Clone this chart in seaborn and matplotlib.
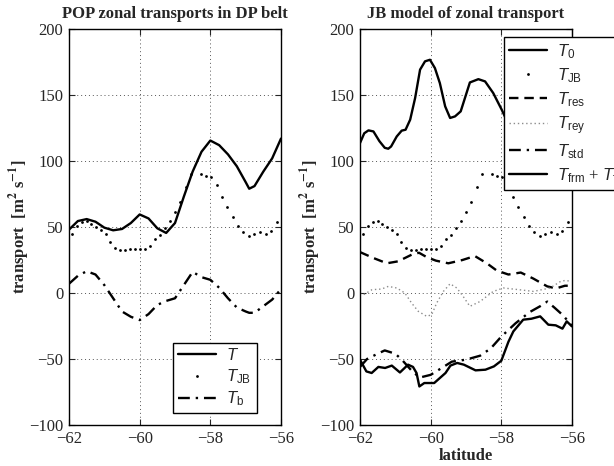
import numpy as np
import pandas as pd
import matplotlib
matplotlib.use("Agg")
import matplotlib.pyplot as plt
import seaborn as sns

# ---------------- data ----------------
lat_T = [-62.0, -61.75, -61.5, -61.25, -61.0, -60.75, -60.5, -60.25, -60.0, -59.75,
         -59.5, -59.25, -59.0, -58.75, -58.5, -58.25, -58.0, -57.75, -57.5, -57.25,
         -57.0, -56.9, -56.75, -56.5, -56.25, -56.0]
T_pop = [48, 54.5, 56, 54, 49.5, 47.5, 48.5, 53, 59.5, 56.5,
         49, 45.5, 53, 73, 92, 107, 115.5, 112, 105, 96,
         84, 79, 81, 92, 102, 117]
T_b = [7, 13, 16.5, 14, 6, -4, -14, -18, -20.5, -16,
       -9, -6, -4, 6, 16, 12, 10, 4, -4, -11,
       -14, -15, -15, -10, -5, 3]

lat_jb = [-61.92, -61.77, -61.62, -61.49, -61.38, -61.24, -61.10, -60.96, -60.83, -60.70,
          -60.56, -60.41, -60.27, -60.13, -59.99, -59.85, -59.71, -59.57, -59.42, -59.28,
          -59.14, -59.00, -58.86, -58.70, -58.55, -58.26, -58.12, -57.97, -57.82, -57.67,
          -57.52, -57.37, -57.22, -57.07, -56.90, -56.76, -56.60, -56.43, -56.28, -56.12]
T_jb = [44.7, 50.5, 54, 54.5, 52, 49.7, 48, 44.7, 39, 34,
        32.3, 32.8, 33.3, 33.6, 33.6, 33.3, 35.8, 40.9, 44.2, 49,
        54.8, 61.4, 69, 80.3, 90.4, 90, 88.3, 87.6, 82, 73,
        65, 57.6, 51, 46, 43, 44.4, 46.2, 44.4, 47, 53.5]

lat_T0 = [-62.0, -61.88, -61.76, -61.62, -61.45, -61.3, -61.2, -61.12, -60.96, -60.82,
          -60.71, -60.58, -60.44, -60.3, -60.16, -60.02, -59.88, -59.74, -59.59, -59.45,
          -59.31, -59.15, -59.03, -58.89, -58.65, -58.46, -58.23, -57.99, -57.75, -57.5,
          -57.25, -57.0, -56.75, -56.5, -56.25, -56.0]
T_0 = [113.6, 121, 123.2, 122.4, 115, 110, 109.3, 111, 118.6, 123,
       123.7, 131.3, 147.7, 169.2, 175.5, 176.7, 170.4, 159, 141.4, 132.6,
       133.8, 137.6, 147.7, 159.5, 162, 160.3, 151.5, 138.9, 125, 112,
       100, 92, 86, 81, 78.5, 84]

lat_res = [-62.0, -61.62, -61.24, -60.92, -60.54, -60.33, -60.1, -59.85, -59.5, -59.1,
           -58.75, -58.41, -58.13, -57.8, -57.45, -57.1, -56.7, -56.45, -56.2, -56.0]
T_res = [31, 26.5, 22.5, 24, 29, 30.5, 27, 24.5, 22.5, 25,
         28, 22.5, 17, 14, 15.5, 11, 5, 3.5, 5.5, 5.5]

lat_rey = [-62.0, -61.9, -61.66, -61.39, -61.2, -60.96, -60.73, -60.54, -60.35, -60.11,
           -59.97, -59.83, -59.64, -59.45, -59.26, -59.08, -58.89, -58.6, -58.23, -57.94,
           -57.5, -57.09, -56.62, -56.34, -56.2, -56.05]
T_rey = [0, -1.3, 2.5, 3, 5, 3.8, 0, -7.6, -13.9, -17.7,
         -16.4, -7.6, 1.2, 7, 3.8, -2.6, -10.1, -6.4, 1.2, 3.8,
         2.5, 1.2, 3.8, 8.5, 9.5, 9]

lat_std = [-62.0, -61.8, -61.5, -61.3, -61.0, -60.8, -60.5, -60.3, -60.0, -59.7,
           -59.4, -59.0, -58.6, -58.3, -58.0, -57.6, -57.2, -56.9, -56.7, -56.5,
           -56.25, -56.0]
T_std = [-56, -50, -46, -43.5, -46, -51, -60, -64, -62, -57,
         -52, -50.5, -47.5, -42, -33, -23, -14.5, -10, -6.5, -11,
         -17, -25]

lat_frm = [-62.0, -61.82, -61.67, -61.48, -61.29, -61.1, -60.87, -60.64, -60.5, -60.4,
           -60.32, -60.18, -59.9, -59.58, -59.44, -59.25, -59.06, -58.73, -58.45, -58.21,
           -58.0, -57.8, -57.66, -57.38, -57.15, -56.9, -56.67, -56.46, -56.27, -56.15,
           -56.0]
T_frm = [-50.5, -59.4, -60.6, -56, -56.8, -55, -60.2, -54.3, -56, -60.6,
         -70.8, -68.2, -68.2, -60.6, -55, -53, -54.3, -58.6, -58.1, -55.6,
         -51.3, -37, -29.1, -20.2, -19.5, -17.7, -24, -24.5, -27, -21.5,
         -25.3]

xticks = [-62, -60, -58, -56]
yticks = [-100, -50, 0, 50, 100, 150, 200]

# ---------------- style ----------------
sns.set_style("ticks")
plt.rcParams["font.family"] = ["Liberation Serif", "DejaVu Serif"]
plt.rcParams["mathtext.fontset"] = "custom"
plt.rcParams["mathtext.rm"] = "Liberation Sans"
plt.rcParams["mathtext.it"] = "Liberation Sans:italic"
plt.rcParams["mathtext.bf"] = "Liberation Sans:bold"
plt.rcParams["axes.unicode_minus"] = True

W, H = 614, 466
fig = plt.figure(figsize=(W / 100, H / 100), dpi=100)
ax1 = fig.add_axes([69 / W, 41 / H, 212 / W, 396 / H])
ax2 = fig.add_axes([360 / W, 41 / H, 212 / W, 396 / H])

LW = 1.7


def line(ax, x, y, color="k", **kw):
    sns.lineplot(x=x, y=y, ax=ax, color=color, estimator=None, sort=False,
                 legend=False, **kw)
    return ax.lines[-1]


def dots(ax, x, y):
    sns.lineplot(x=x, y=y, ax=ax, color="k", estimator=None, sort=False,
                 legend=False, linestyle="", marker="o", markersize=2.0,
                 markeredgewidth=0, markerfacecolor="k")
    return ax.lines[-1]


# left panel
h_T = line(ax1, lat_T, T_pop, lw=LW, linestyle="-")
h_jb = dots(ax1, lat_jb, T_jb)
h_b = line(ax1, lat_T, T_b, lw=LW, linestyle=(0, (5, 2.5, 1, 2.5)))

# right panel
h_T0 = line(ax2, lat_T0, T_0, lw=LW, linestyle="-")
h_jb2 = dots(ax2, lat_jb, T_jb)
h_res = line(ax2, lat_res, T_res, lw=LW, linestyle=(0, (4, 2.5)))
h_rey = line(ax2, lat_rey, T_rey, color="#8c8c8c", lw=1.0, linestyle=(0, (1, 2)))
h_std = line(ax2, lat_std, T_std, lw=LW, linestyle=(0, (5, 2.5, 1, 2.5)))
h_frm = line(ax2, lat_frm, T_frm, lw=LW, linestyle="-")

for ax in (ax1, ax2):
    ax.set_xlim(-62, -56)
    ax.set_ylim(-100, 200)
    ax.set_xticks(xticks)
    ax.set_yticks(yticks)
    ax.grid(True, linestyle=(0, (1, 3)), color="#555555", lw=0.7)
    ax.tick_params(direction="in", length=4, width=0.8, top=True, right=True,
                   labelsize=12, pad=4)
    for s in ax.spines.values():
        s.set_visible(True)
        s.set_linewidth(1.0)
        s.set_color("k")
    ax.set_ylabel(r"transport  [m$^{\mathbf{2}}$ s$^{\mathbf{-1}}$]",
                  fontsize=12, fontweight="bold", labelpad=-2)
    ax.yaxis.label.set_math_fontfamily("stix")
    ax.set_xlabel("")

ax1.set_title("POP zonal transports in DP belt", fontsize=12, fontweight="bold", pad=8)
ax2.set_title("JB model of zonal transport", fontsize=12, fontweight="bold", pad=8)
ax2.set_xlabel("latitude", fontsize=12, fontweight="bold", labelpad=1)

leg_kw = dict(frameon=True, fancybox=False, edgecolor="k", framealpha=1,
              fontsize=12, borderaxespad=0, handlelength=2.3,
              borderpad=0.3, handletextpad=0.6, bbox_transform=fig.transFigure,
              loc="upper left")

leg1 = ax1.legend([h_T, h_jb, h_b], [r"$T$", r"$T_{\rm JB}$", r"$T_{\rm b}$"],
                  bbox_to_anchor=(173 / W, 1 - 343 / H), labelspacing=0.2, **leg_kw)
leg1.get_frame().set_linewidth(1.0)

leg2 = ax2.legend([h_T0, h_jb2, h_res, h_rey, h_std, h_frm],
                  [r"$T_0$", r"$T_{\rm JB}$", r"$T_{\rm res}$", r"$T_{\rm rey}$",
                   r"$T_{\rm std}$", r"$T_{\rm frm}$ + $T_{\rm frs}$"],
                  bbox_to_anchor=(504 / W, 1 - 37 / H), labelspacing=0.32, **leg_kw)
leg2.get_frame().set_linewidth(1.0)

fig.savefig("out.png", dpi=100)
